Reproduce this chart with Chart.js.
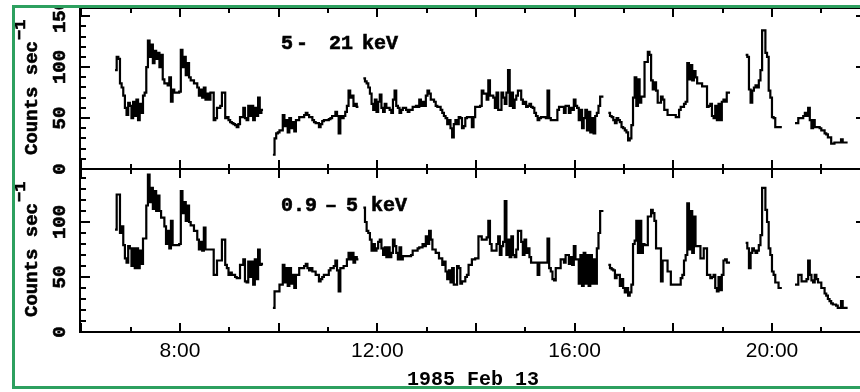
<!DOCTYPE html>
<html>
<head>
<meta charset="utf-8">
<script src="https://cdn.jsdelivr.net/npm/chart.js@4.4.1/dist/chart.umd.min.js"></script>
<style>
  html, body { margin: 0; padding: 0; background: #fff; }
  body { width: 860px; height: 392px; overflow: hidden; position: relative; }
  #wrap { position: absolute; left: 0; top: 8px; width: 900px; height: 384px; }
  #border {
    position: absolute; left: 12px; top: 5px; width: 900px; height: 378px;
    border: 3px solid #2da05f; border-right: none; z-index: 2; pointer-events: none;
  }
</style>
</head>
<body>
<div id="wrap"><canvas id="lightCurve" width="900" height="384"></canvas></div>
<div id="border"></div>
<script>
// Light curves, 1985 Feb 13, 2 minute bins
const binMinutes = 2;
// start of each observing interval, minutes after 0h
const segStarts = [401, 593, 703, 1001, 1168, 1228];
const hourTicks = [6, 7, 8, 9, 10, 11, 12, 13, 14, 15, 16, 17, 18, 19, 20, 21];

// 5 - 21 keV counts/s
const hard1 = [97, 110, 108, 84, 80, 72, 60, 53, 65, 62, 50, 66, 52, 68, 48, 64, 55, 72, 75, 100,
  126, 110, 122, 104, 116, 108, 114, 100, 112, 88, 84, 84, 82, 90, 66, 78, 75, 75, 75, 76,
  117, 100, 110, 92, 104, 90, 87, 87, 84, 84, 80, 72, 78, 70, 80, 68, 74, 68, 75, 75,
  48, 50, 60, 60, 62, 75, 75, 50, 51, 48, 46, 45, 44, 43, 41, 44, 51, 51, 60, 50,
  48, 62, 52, 62, 48, 60, 52, 70, 55, 58];
const hard2 = [14, 30, 35, 36, 38, 38, 53, 42, 48, 36, 50, 40, 46, 37, 48, 48, 51, 51, 51, 53,
  55, 53, 51, 51, 48, 46, 45, 45, 41, 44, 47, 48, 48, 48, 49, 50, 52, 52, 56, 52,
  35, 52, 50, 52, 56, 62, 77, 70, 72, 62, 64, 61];
const hard3 = [89, 86, 84, 80, 74, 64, 58, 68, 56, 66, 73, 60, 56, 64, 60, 60, 58, 55, 68, 77,
  62, 60, 55, 58, 60, 60, 58, 56, 58, 58, 61, 61, 62, 61, 68, 62, 66, 62, 72, 77,
  74, 68, 68, 66, 62, 61, 61, 58, 55, 52, 50, 44, 48, 40, 31, 44, 48, 44, 51, 50,
  40, 42, 50, 51, 51, 51, 41, 51, 61, 61, 61, 62, 77, 74, 74, 68, 87, 72, 72, 70,
  60, 75, 58, 58, 75, 70, 64, 75, 97, 62, 75, 60, 68, 72, 77, 77, 68, 64, 66, 61,
  62, 64, 61, 60, 55, 52, 48, 50, 51, 51, 51, 50, 77, 50, 48, 48, 48, 48, 58, 61,
  61, 61, 55, 62, 62, 55, 60, 58, 68, 62, 60, 48, 58, 40, 50, 58, 38, 56, 36, 50,
  35, 52, 55, 62, 71, 71];
const hard4 = [55, 52, 51, 48, 45, 50, 48, 46, 41, 40, 38, 36, 28, 30, 43, 70, 90, 62, 88, 65,
  71, 71, 105, 105, 115, 112, 87, 78, 85, 77, 65, 65, 71, 68, 58, 58, 53, 53, 53, 53,
  53, 51, 51, 58, 61, 61, 64, 66, 104, 88, 102, 87, 96, 90, 84, 84, 84, 81, 81, 81,
  61, 62, 64, 52, 50, 62, 48, 64, 48, 66, 68, 66, 75, 75];
const hard5 = [112, 110, 78, 65, 77, 80, 82, 80, 87, 97, 136, 136, 114, 110, 77, 70, 51, 50, 41, 41,
  41, 41];
const hard6 = [45, 45, 50, 50, 50, 52, 55, 52, 60, 48, 40, 48, 41, 41, 41, 40, 38, 38, 35, 34,
  31, 31, 25, 25, 26, 26, 26, 26, 29, 26, 26, 26];

// 0.9 - 5 keV counts/s
const soft1 = [93, 125, 125, 90, 96, 79, 67, 63, 78, 76, 60, 76, 58, 76, 58, 74, 62, 85, 85, 115,
  143, 118, 131, 112, 128, 110, 124, 110, 104, 104, 96, 80, 92, 76, 101, 79, 79, 79, 79, 80,
  128, 108, 118, 101, 115, 100, 97, 97, 92, 92, 84, 75, 82, 74, 95, 75, 75, 75, 75, 75,
  52, 52, 65, 65, 65, 84, 84, 61, 58, 52, 54, 52, 52, 50, 49, 49, 61, 61, 66, 46,
  45, 64, 50, 64, 43, 66, 48, 75, 61, 62];
const soft2 = [22, 37, 37, 37, 43, 43, 61, 45, 58, 42, 58, 44, 52, 40, 52, 52, 58, 58, 58, 60,
  62, 58, 56, 58, 55, 55, 52, 52, 46, 48, 50, 52, 52, 52, 56, 58, 58, 60, 65, 56,
  37, 58, 58, 60, 60, 66, 72, 66, 72, 63, 68, 66];
const soft3 = [113, 100, 92, 90, 84, 74, 80, 74, 76, 82, 84, 76, 70, 77, 68, 77, 68, 72, 84, 78,
  72, 66, 77, 66, 69, 69, 69, 69, 69, 70, 74, 74, 74, 76, 77, 77, 80, 78, 87, 80,
  92, 84, 75, 75, 72, 72, 67, 67, 61, 64, 55, 48, 56, 45, 58, 43, 43, 60, 58, 44,
  46, 46, 50, 52, 61, 61, 66, 66, 67, 67, 87, 87, 84, 84, 84, 86, 101, 80, 74, 74,
  74, 80, 87, 70, 78, 82, 119, 70, 84, 68, 87, 70, 68, 75, 92, 92, 82, 70, 84, 72,
  76, 68, 63, 63, 63, 63, 52, 63, 63, 63, 63, 63, 85, 58, 55, 48, 47, 58, 58, 58,
  66, 66, 63, 70, 70, 62, 68, 61, 78, 66, 66, 44, 70, 42, 72, 44, 70, 42, 70, 44,
  66, 44, 76, 90, 110, 110];
const soft4 = [61, 58, 57, 56, 49, 52, 52, 42, 48, 40, 36, 40, 33, 36, 43, 80, 83, 101, 72, 101,
  72, 80, 79, 79, 105, 105, 111, 108, 101, 76, 76, 76, 46, 65, 65, 65, 55, 55, 43, 43,
  43, 43, 43, 43, 49, 52, 65, 70, 117, 75, 110, 72, 105, 78, 78, 78, 67, 67, 76, 76,
  52, 52, 49, 50, 52, 40, 37, 50, 38, 52, 65, 66, 63, 63];
const soft5 = [81, 76, 58, 72, 76, 74, 72, 74, 79, 88, 131, 131, 111, 100, 76, 70, 55, 52, 45, 45,
  40, 40];
const soft6 = [43, 43, 52, 52, 46, 46, 46, 48, 65, 52, 47, 45, 52, 48, 45, 45, 40, 40, 35, 33,
  30, 28, 26, 25, 25, 24, 22, 22, 28, 22, 22, 22];

const hardSegs = [hard1, hard2, hard3, hard4, hard5, hard6];
const softSegs = [soft1, soft2, soft3, soft4, soft5, soft6];

// x in hours; a null after each interval breaks the line
function toPoints(segs) {
  const pts = [];
  segs.forEach((vals, s) => {
    const t0 = segStarts[s];
    vals.forEach((v, i) => pts.push({ x: (t0 + i * binMinutes) / 60, y: v }));
    const tEnd = (t0 + vals.length * binMinutes) / 60;
    pts.push({ x: tEnd, y: vals[vals.length - 1] });
    pts.push({ x: tEnd + 0.01, y: null });
  });
  return pts;
}

const mono = "'Liberation Mono', 'Courier New', monospace";

function panelAxis(max, weight) {
  return {
    type: 'linear',
    position: 'left',
    stack: 'panels',
    stackWeight: weight,
    min: 0,
    max: max,
    bounds: 'data',
    grid: { display: false, drawTicks: false },
    border: { display: true, color: '#000', width: 2 },
    ticks: { display: false, stepSize: 10, includeBounds: false, autoSkip: false },
    afterFit: (s) => { s.width = 80; },
  };
}

// box, inner tick marks, rotated y labels, panel labels and y titles
const framePlugin = {
  id: 'frame',
  afterDraw(chart) {
    const { ctx, chartArea: area, scales } = chart;
    const { x, yHard, ySoft } = scales;
    const mid = yHard.getPixelForValue(0);
    const seg = (x1, y1, x2, y2) => {
      ctx.beginPath(); ctx.moveTo(x1, y1); ctx.lineTo(x2, y2); ctx.stroke();
    };
    // heavier type, like the old plotter lettering
    const text = (str, tx, ty) => {
      ctx.fillText(str, tx, ty);
      ctx.strokeText(str, tx, ty);
    };
    ctx.save();
    ctx.strokeStyle = '#000';
    ctx.lineWidth = 2;
    seg(area.left, area.top, area.right, area.top);
    seg(area.right, area.top, area.right, area.bottom);
    seg(area.left, mid, area.right, mid);

    x.ticks.forEach((t) => {
      const px = Math.round(x.getPixelForValue(t.value));
      const len = t.value % 2 === 0 ? 9 : 5;
      seg(px, area.top, px, area.top + len);
      seg(px, mid - len, px, mid + len);
      seg(px, area.bottom, px, area.bottom - len);
    });

    ctx.fillStyle = '#000';
    [yHard, ySoft].forEach((s) => s.ticks.forEach((t) => {
      const py = Math.round(s.getPixelForValue(t.value));
      const major = t.value % 50 === 0;
      const len = major ? 10 : 6;
      ctx.lineWidth = 2;
      seg(area.left, py, area.left + len, py);
      seg(area.right, py, area.right - len, py);
      if (major) {
        ctx.save();
        ctx.translate(60, py);
        ctx.rotate(-Math.PI / 2);
        ctx.font = 'bold 19px ' + mono;
        ctx.textAlign = 'center';
        ctx.textBaseline = 'middle';
        ctx.lineWidth = 0.6;
        text(String(t.value), 0, 0);
        ctx.restore();
      }
    }));

    ctx.lineWidth = 0.6;
    ctx.textAlign = 'left';
    ctx.textBaseline = 'alphabetic';
    ctx.font = 'bold 20px ' + mono;
    text('5', 281, 41);
    text('-', 296, 41);
    text('21', 329, 41);
    text('keV', 362, 41);
    text('0.9', 281, 203);
    text('–', 325, 203);
    text('5', 346, 203);
    text('keV', 371, 203);

    const yTitle = (bx, by) => {
      ctx.save();
      ctx.translate(bx, by);
      ctx.rotate(-Math.PI / 2);
      ctx.font = 'bold 19px ' + mono;
      text('Counts sec', 0, 0);
      const w = ctx.measureText('Counts sec').width;
      ctx.font = 'bold 17px ' + mono;
      text('−1', w + 1, -12);
      ctx.restore();
    };
    yTitle(37, 147);
    yTitle(37, 309);
    ctx.restore();
  },
};

const lineStyle = {
  borderColor: '#000',
  borderWidth: 2.2,
  pointRadius: 0,
  stepped: true,
  fill: false,
  spanGaps: false,
};

const ctx = document.getElementById('lightCurve').getContext('2d');
new Chart(ctx, {
  type: 'line',
  data: {
    datasets: [
      { label: '5 - 21 keV', data: toPoints(hardSegs), xAxisID: 'x', yAxisID: 'yHard', ...lineStyle },
      { label: '0.9 - 5 keV', data: toPoints(softSegs), xAxisID: 'x', yAxisID: 'ySoft', ...lineStyle },
    ],
  },
  options: {
    responsive: false,
    animation: false,
    layout: { padding: { left: 0, top: 0, right: 34, bottom: 0 } },
    plugins: {
      legend: { display: false },
      tooltip: { enabled: false },
    },
    scales: {
      x: {
        type: 'linear',
        position: 'bottom',
        min: 5.973,
        max: 21.906,
        bounds: 'data',
        grid: { display: false, drawTicks: false },
        border: { display: true, color: '#000', width: 2 },
        afterBuildTicks: (s) => { s.ticks = hourTicks.map((v) => ({ value: v })); },
        ticks: {
          autoSkip: false,
          minRotation: 0,
          maxRotation: 0,
          padding: 7,
          color: '#000',
          font: { family: "'Liberation Sans', Arial, sans-serif", size: 21 },
          callback: (v) => (v % 4 === 0 ? v + ':00' : ''),
        },
        title: {
          display: true,
          text: '1985 Feb 13',
          color: '#000',
          font: { family: mono, size: 20, weight: 'bold' },
          padding: { top: 0, bottom: 0 },
        },
        afterFit: (s) => { s.height = 60; },
      },
      ySoft: panelAxis(148.2, 163),
      yHard: panelAxis(158, 161),
    },
  },
  plugins: [framePlugin],
});
</script>
</body>
</html>
